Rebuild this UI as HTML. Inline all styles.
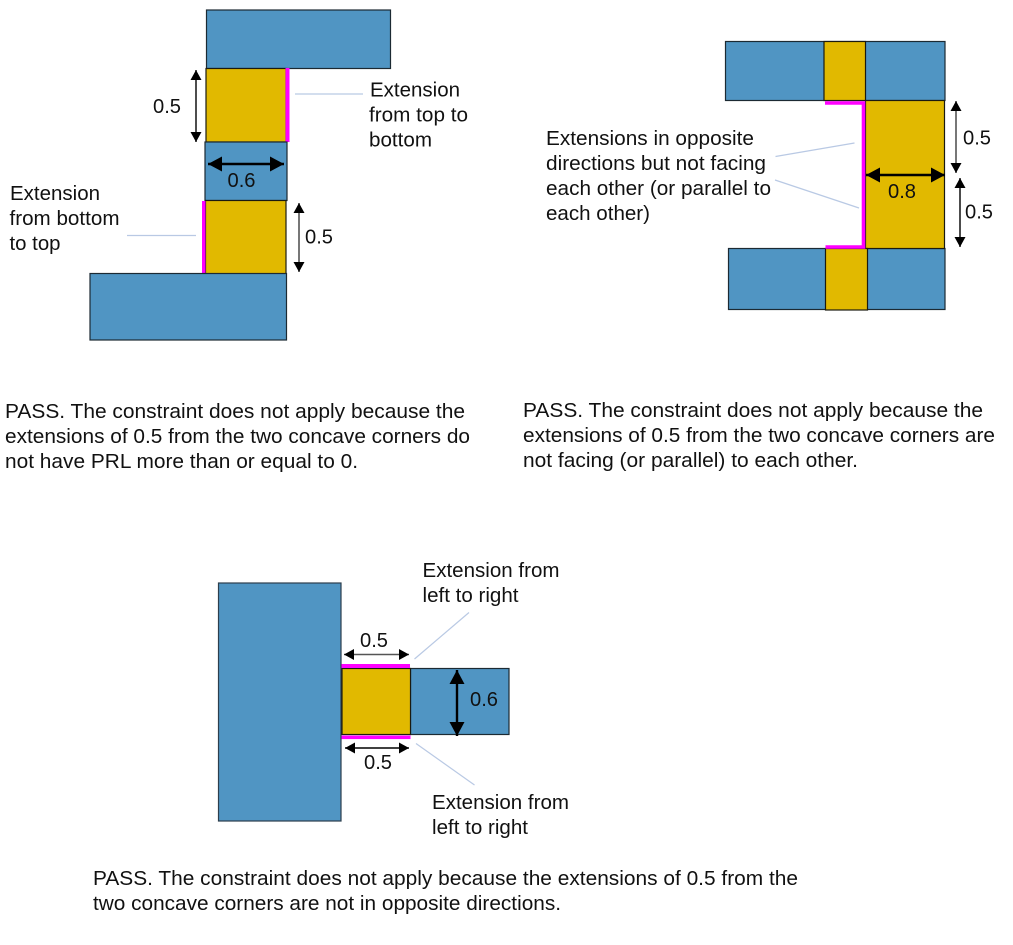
<!DOCTYPE html>
<html>
<head>
<meta charset="utf-8">
<style>
html,body{margin:0;padding:0;background:#fff;width:1013px;height:945px;overflow:hidden}
svg{display:block}
text{font-family:"Liberation Sans",Arial,sans-serif;font-size:20px;fill:#111}
.b{fill:#5095c3;stroke:#1c2a33;stroke-width:1.2}
.g{fill:#e1b900;stroke:#1a1a10;stroke-width:1.2}
.m{fill:#ff00ff}
.l{stroke:#b9c9e4;stroke-width:1.2;fill:none}
.a{stroke:#000;stroke-width:1.4;fill:none;marker-start:url(#h);marker-end:url(#h)}
.t{stroke:#000;stroke-width:2.4;fill:none;marker-start:url(#k);marker-end:url(#k)}
</style>
</head>
<body>
<svg width="1013" height="945" viewBox="0 0 1013 945" xmlns="http://www.w3.org/2000/svg">
<defs>
<marker id="h" markerUnits="userSpaceOnUse" markerWidth="12" markerHeight="12" refX="10" refY="6" orient="auto-start-reverse"><path d="M0,0.5 L10,6 L0,11.5Z" fill="#000"/></marker>
<marker id="k" markerUnits="userSpaceOnUse" markerWidth="15" markerHeight="16" refX="14" refY="8" orient="auto-start-reverse"><path d="M0,0.5 L14,8 L0,15.5Z" fill="#000"/></marker>
</defs>

<!-- top-left -->
<rect class="b" x="206.5" y="10" width="184" height="58.5"/>
<rect class="g" x="206" y="68.5" width="80" height="73.5"/>
<rect class="m" x="285.5" y="68" width="4" height="74"/>
<rect class="b" x="205" y="142" width="82" height="58.5"/>
<rect class="g" x="205.5" y="200.5" width="80.5" height="73.5"/>
<rect class="m" x="202" y="201" width="3.5" height="74"/>
<rect class="b" x="90" y="273.5" width="196.5" height="66.5"/>
<line class="a" x1="196" y1="70" x2="196" y2="142"/>
<line class="a" x1="299" y1="203" x2="299" y2="272" style="stroke:#555;stroke-width:1.6"/>
<line class="t" x1="208" y1="164" x2="284" y2="164"/>
<line class="l" x1="295" y1="94" x2="363" y2="94"/>
<line class="l" x1="127" y1="235.5" x2="196" y2="235.5"/>
<text x="153" y="113" textLength="28" lengthAdjust="spacingAndGlyphs">0.5</text>
<text x="227.5" y="187" textLength="28" lengthAdjust="spacingAndGlyphs">0.6</text>
<text x="305" y="243.5" textLength="28" lengthAdjust="spacingAndGlyphs">0.5</text>
<text x="370" y="96.5" textLength="90" lengthAdjust="spacingAndGlyphs">Extension</text>
<text x="369" y="121.5" textLength="99" lengthAdjust="spacingAndGlyphs">from top to</text>
<text x="369" y="146.5" textLength="63" lengthAdjust="spacingAndGlyphs">bottom</text>
<text x="10" y="200" textLength="90" lengthAdjust="spacingAndGlyphs">Extension</text>
<text x="9.5" y="225" textLength="110" lengthAdjust="spacingAndGlyphs">from bottom</text>
<text x="9.5" y="250" textLength="51" lengthAdjust="spacingAndGlyphs">to top</text>

<!-- top-right -->
<rect class="b" x="725.5" y="41.5" width="219.5" height="59"/>
<rect class="b" x="728.5" y="248.5" width="216.5" height="61"/>
<rect class="g" x="824" y="41.5" width="41.5" height="59"/>
<rect class="g" x="865.5" y="100.5" width="79" height="148"/>
<rect class="g" x="825.5" y="248.5" width="42" height="61.5"/>
<path d="M825,103 H863.5 V247 H825.5" fill="none" stroke="#ff00ff" stroke-width="3.6"/>
<line class="a" x1="956" y1="101" x2="956" y2="173" style="stroke:#555;stroke-width:1.6"/>
<line class="a" x1="960" y1="178" x2="960" y2="247"/>
<line class="t" x1="866" y1="175" x2="945" y2="175"/>
<line class="l" x1="775.5" y1="156.5" x2="854.5" y2="143"/>
<line class="l" x1="775" y1="180" x2="859" y2="208"/>
<text x="963" y="144.5" textLength="28" lengthAdjust="spacingAndGlyphs">0.5</text>
<text x="888" y="198" textLength="28" lengthAdjust="spacingAndGlyphs">0.8</text>
<text x="965" y="218.5" textLength="28" lengthAdjust="spacingAndGlyphs">0.5</text>
<text x="546" y="145" textLength="208" lengthAdjust="spacingAndGlyphs">Extensions in opposite</text>
<text x="546" y="170" textLength="220" lengthAdjust="spacingAndGlyphs">directions but not facing</text>
<text x="546" y="195" textLength="225" lengthAdjust="spacingAndGlyphs">each other (or parallel to</text>
<text x="546" y="220" textLength="104" lengthAdjust="spacingAndGlyphs">each other)</text>

<!-- paragraphs -->
<text x="5" y="418" textLength="460" lengthAdjust="spacingAndGlyphs">PASS. The constraint does not apply because the</text>
<text x="5" y="443" textLength="465" lengthAdjust="spacingAndGlyphs">extensions of 0.5 from the two concave corners do</text>
<text x="5" y="468" textLength="353" lengthAdjust="spacingAndGlyphs">not have PRL more than or equal to 0.</text>
<text x="523" y="417" textLength="460" lengthAdjust="spacingAndGlyphs">PASS. The constraint does not apply because the</text>
<text x="523" y="442" textLength="472" lengthAdjust="spacingAndGlyphs">extensions of 0.5 from the two concave corners are</text>
<text x="523" y="467" textLength="335" lengthAdjust="spacingAndGlyphs">not facing (or parallel) to each other.</text>

<!-- bottom -->
<rect class="b" x="218.5" y="583" width="122.5" height="238" style="stroke:#2c3e4c"/>
<rect class="b" x="410.5" y="668.5" width="98.5" height="66"/>
<rect class="g" x="342" y="668.5" width="68.5" height="66"/>
<rect class="m" x="341.5" y="664" width="68.5" height="4"/>
<rect class="m" x="341.5" y="735.5" width="69" height="3.6"/>
<line class="a" x1="344" y1="654.5" x2="409" y2="654.5" style="stroke:#555;stroke-width:1.6"/>
<line class="a" x1="345" y1="748" x2="409" y2="748"/>
<line class="t" x1="457" y1="670" x2="457" y2="736"/>
<line class="l" x1="414.5" y1="659" x2="469" y2="612.5"/>
<line class="l" x1="416" y1="743.5" x2="474.5" y2="785"/>
<text x="360" y="647" textLength="28" lengthAdjust="spacingAndGlyphs">0.5</text>
<text x="470" y="706" textLength="28" lengthAdjust="spacingAndGlyphs">0.6</text>
<text x="364" y="769" textLength="28" lengthAdjust="spacingAndGlyphs">0.5</text>
<text x="422.5" y="577" textLength="137" lengthAdjust="spacingAndGlyphs">Extension from</text>
<text x="422.5" y="602" textLength="96" lengthAdjust="spacingAndGlyphs">left to right</text>
<text x="432" y="809" textLength="137" lengthAdjust="spacingAndGlyphs">Extension from</text>
<text x="432" y="834" textLength="96" lengthAdjust="spacingAndGlyphs">left to right</text>
<text x="93" y="885" textLength="705" lengthAdjust="spacingAndGlyphs">PASS. The constraint does not apply because the extensions of 0.5 from the</text>
<text x="93" y="910" textLength="468" lengthAdjust="spacingAndGlyphs">two concave corners are not in opposite directions.</text>
</svg>
</body>
</html>
